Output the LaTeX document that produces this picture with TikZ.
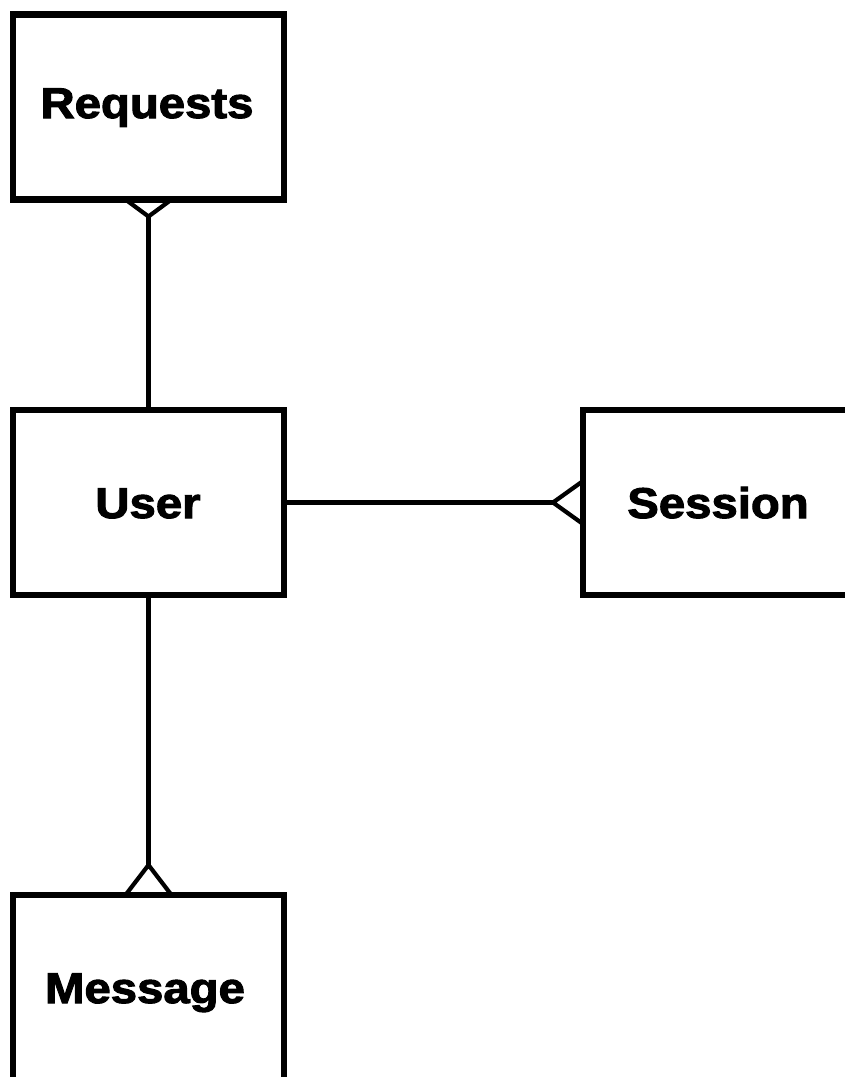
\documentclass[tikz,border=0pt]{standalone}
\usepackage{fontspec}
\newfontfamily\entityfont[FakeStretch=1.1,FakeBold=2.4]{Liberation Sans Bold}
\usetikzlibrary{calc}
\begin{document}
\begin{tikzpicture}[x=1pt,y=-1pt,
  entity/.style={draw=black, line width=6.5pt, fill=white, rectangle,
    minimum width=271pt, minimum height=185pt, inner sep=0pt, outer sep=0pt},
  label/.style={anchor=base, inner sep=0pt, font=\entityfont\fontsize{43}{46}\selectfont},
  conn/.style={draw=black, line width=4.2pt, line join=miter}]
  \useasboundingbox (0,0) rectangle (845,1077);
  \clip (0,0) rectangle (845,1077);
  % entity boxes
  \node[entity] (req) at (148.5,107) {};
  \node[entity] (user) at (148.5,502.5) {};
  \node[entity] (sess) at (718.5,502.5) {};
  \node[entity] (msg) at (148.5,987.5) {};
  % entity names
  \node[label] (reqt) at (147,118) {Requests};
  \node[label] (usert) at (148,518) {User};
  \node[label] (sesst) at (718,518) {Session};
  \node[label] (msgt) at (145,1003) {Message};
  % apex points of the crow's feet
  \coordinate (reqapex) at ($(req.south)+(0,17)$);
  \coordinate (sessapex) at ($(sess.west)+(-30,0)$);
  \coordinate (msgapex) at ($(msg.north)+(0,-30)$);
  % relationship lines
  \draw[conn] (user.north) -- (reqapex);
  \draw[conn] (user.east) -- (sessapex);
  \draw[conn] (user.south) -- (msgapex);
  % crow's feet (many side)
  \draw[conn] ($(req.south)+(-23,0)$) -- (reqapex) -- ($(req.south)+(23,0)$);
  \draw[conn] ($(sess.west)+(0,-21.5)$) -- (sessapex) -- ($(sess.west)+(0,21.5)$);
  \draw[conn] ($(msg.north)+(-23,0)$) -- (msgapex) -- ($(msg.north)+(23,0)$);
  % box outlines drawn over the line ends
  \foreach \n in {req,user,sess,msg}{
    \draw[line width=6.5pt] (\n.north west) rectangle (\n.south east);
  }
\end{tikzpicture}
\end{document}
